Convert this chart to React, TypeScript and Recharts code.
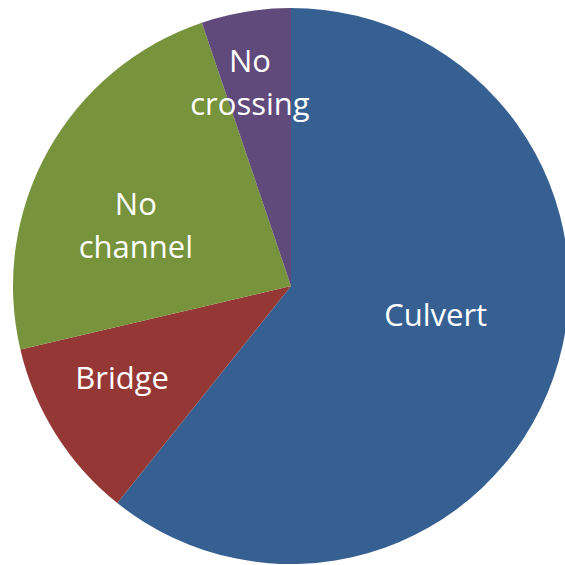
import React from 'react';
import { PieChart, Pie, Cell } from 'recharts';

const categories = ['Culvert', 'Bridge', 'No channel', 'No crossing'];
const shares = [60.8, 10.6, 23.5, 5.2];
const colors = ['#366092', '#953735', '#77933C', '#604A7B'];

// label placement: radius as fraction of the pie, and a small angle nudge (deg, clockwise)
const labelRadius = [0.53, 0.69, 0.6, 0.75];
const labelNudge = [-8.4, 4, -7.5, -2];

const data = categories.map((name, i) => ({ name, value: shares[i] }));

const RAD = Math.PI / 180;

const renderLabel = (props: any) => {
  const { cx, cy, midAngle, outerRadius, index, name } = props;
  const clockwise = 90 - midAngle + labelNudge[index];
  const r = outerRadius * labelRadius[index];
  const x = cx + r * Math.sin(clockwise * RAD);
  const y = cy - r * Math.cos(clockwise * RAD);
  const lines = String(name).split(' ');
  const lineH = 43;
  const top = y - ((lines.length - 1) * lineH) / 2;
  return (
    <text
      x={x}
      y={top}
      fill="#ffffff"
      textAnchor="middle"
      dominantBaseline="central"
      fontFamily="'Open Sans', sans-serif"
      fontSize={31}
    >
      {lines.map((ln, i) => (
        <tspan key={i} x={x} dy={i === 0 ? 0 : lineH}>
          {ln}
        </tspan>
      ))}
    </text>
  );
};

const App: React.FC = () => {
  return (
    <div style={{ position: 'fixed', left: 0, top: 0, width: 565, height: 565, overflow: 'hidden', background: '#ffffff' }}>
      <PieChart width={565} height={565} margin={{ top: 0, right: 0, bottom: 0, left: 0 }}>
        <Pie
          data={data}
          dataKey="value"
          nameKey="name"
          cx={291}
          cy={286}
          outerRadius={278}
          startAngle={90}
          endAngle={-270}
          stroke="none"
          label={renderLabel}
          labelLine={false}
          isAnimationActive={false}
        >
          {data.map((d, i) => (
            <Cell key={d.name} fill={colors[i]} />
          ))}
        </Pie>
      </PieChart>
    </div>
  );
};

export default App;
